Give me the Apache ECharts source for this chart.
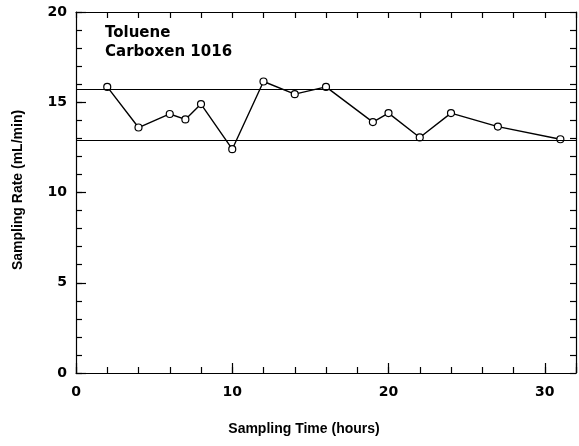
<!DOCTYPE html>
<html>
<head>
<meta charset="utf-8">
<script src="https://cdn.jsdelivr.net/npm/echarts@6/dist/echarts.min.js"></script>
<style>
  html, body { margin: 0; padding: 0; background: #fff; }
  #chart { width: 579px; height: 446px; }
</style>
</head>
<body>
<div id="chart"></div>
<script>
// Sampling time (hours) and measured sampling rate (mL/min)
const samplingTime = [2, 4, 6, 7, 8, 10, 12, 14, 16, 19, 20, 22, 24, 27, 31];
const samplingRate = [15.85, 13.6, 14.35, 14.05, 14.9, 12.4, 16.15, 15.45, 15.85, 13.9, 14.4, 13.05, 14.4, 13.65, 12.95];
// Horizontal limit lines
const limitLines = [15.7, 12.9];
// Annotation
const annotation = ['Toluene', 'Carboxen 1016'];
const xLabels = [0, 10, 20, 30];
const yLabels = [0, 5, 10, 15, 20];

const FONT = '"Liberation Sans", Arial, sans-serif';
const WIDE = '"DejaVu Sans", sans-serif';
const points = samplingTime.map((t, i) => [t, samplingRate[i]]);

const lineStyle = { color: '#000', width: 1.2 };

function xAxisDef(pos, interval, tickLen, showLabel, showLine) {
  return {
    type: 'value', position: pos, min: 0, max: 32, interval: interval,
    axisLine: { show: showLine, onZero: false, lineStyle: lineStyle },
    axisTick: { show: true, inside: true, length: tickLen, lineStyle: lineStyle },
    axisLabel: {
      show: showLabel, color: '#000', fontFamily: WIDE, fontWeight: 'bold', fontSize: 14, margin: 12,
      formatter: v => (xLabels.indexOf(v) >= 0 ? String(v) : '')
    },
    splitLine: { show: false }
  };
}
function yAxisDef(pos, interval, tickLen, showLabel, showLine) {
  return {
    type: 'value', position: pos, min: 0, max: 20, interval: interval,
    axisLine: { show: showLine, onZero: false, lineStyle: lineStyle },
    axisTick: { show: true, inside: true, length: tickLen, lineStyle: lineStyle },
    axisLabel: {
      show: showLabel, color: '#000', fontFamily: WIDE, fontWeight: 'bold', fontSize: 14, margin: 9,
      formatter: v => (yLabels.indexOf(v) >= 0 ? String(v) : '')
    },
    splitLine: { show: false }
  };
}

const chart = echarts.init(document.getElementById('chart'), null, { renderer: 'canvas' });
chart.setOption({
  animation: false,
  backgroundColor: '#fff',
  grid: { left: 76, right: 3, top: 12, bottom: 73, containLabel: false },
  xAxis: [
    xAxisDef('bottom', 2, 6, true, true),
    xAxisDef('top', 2, 6, false, true),
    xAxisDef('bottom', 10, 10, false, false)
  ],
  yAxis: [
    yAxisDef('left', 1, 6, true, true),
    yAxisDef('right', 1, 6, false, true),
    yAxisDef('left', 5, 10, false, false)
  ],
  graphic: [
    {
      type: 'text', x: 304, y: 429,
      style: {
        text: 'Sampling Time (hours)', fill: '#000', align: 'center', verticalAlign: 'middle',
        font: 'bold 14px ' + FONT
      }
    },
    {
      type: 'text', x: 18, y: 190, rotation: Math.PI / 2,
      style: {
        text: 'Sampling Rate (mL/min)', fill: '#000', align: 'center', verticalAlign: 'middle',
        font: 'bold 14px ' + FONT
      }
    },
    {
      type: 'text', x: 105, y: 24,
      style: {
        text: annotation.join('\n'), fill: '#000', lineHeight: 19,
        font: 'bold 15px ' + WIDE
      }
    }
  ],
  series: [
    {
      type: 'line',
      data: points,
      symbol: 'circle',
      symbolSize: 7,
      itemStyle: { color: '#fff', borderColor: '#000', borderWidth: 1.2 },
      lineStyle: { color: '#000', width: 1.4 },
      markLine: {
        silent: true,
        symbol: ['none', 'none'],
        label: { show: false },
        lineStyle: { color: '#000', width: 1.2, type: 'solid' },
        data: limitLines.map(v => ({ yAxis: v }))
      },
      z: 3
    }
  ]
});
</script>
</body>
</html>
